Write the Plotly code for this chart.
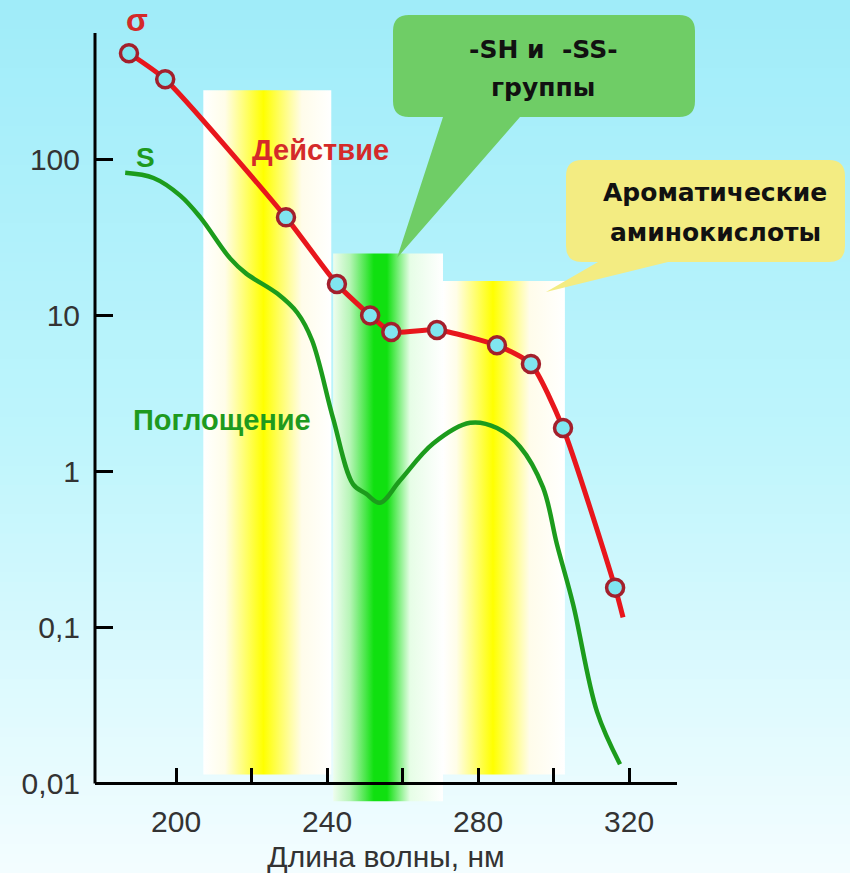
import plotly.graph_objects as go

# ---------------- data ----------------
# Action spectrum (σ, "Действие") – measured points (circles)
act_nm = [187.5, 197.1, 229.1, 242.6, 251.4, 257.0, 269.1, 285.0, 294.0, 302.5, 316.3]
act_val = [479, 326, 42.5, 15.9, 10.0, 7.84, 8.07, 6.43, 4.89, 1.90, 0.18]
# line continues a little past the last circle
act_tail_nm = [318.4]
act_tail_val = [0.116]

# Absorption spectrum (S, "Поглощение")
abs_nm = [186.5, 194.0, 201.1, 206.4, 214.3, 218.5, 226.8, 232.1, 236.0, 241.6,
          246.9, 250.3, 254.0, 259.3, 268.1, 277.9, 285.0, 291.1, 297.2, 300.9,
          305.2, 311.5, 317.6]
abs_val = [82, 76, 58.6, 42.5, 23.2, 18.6, 13.8, 10.4, 6.93, 2.18,
           0.826, 0.72, 0.63, 0.875, 1.51, 2.05, 1.90, 1.44, 0.79, 0.34,
           0.14, 0.0289, 0.0133]

# highlighted absorption bands: [start nm, end nm, top value, bottom value, peak position]
band_start = [207.2, 241.6, 270.7]
band_end = [241.1, 270.7, 303.0]
band_top = [277, 24.9, 16.6]
band_bottom = [0.0114, 0.0077, 0.0114]
band_peak = [0.47, 0.43, 0.41]
band_color = ["#ffff00", "#00e000", "#ffff00"]

x_ticks = [200, 220, 240, 260, 280, 300, 320]
x_ticktext = ["200", "", "240", "", "280", "", "320"]
y_ticks = [0.01, 0.1, 1, 10, 100]
y_ticktext = ["0,01", "0,1", "1", "10", "100"]

# ---------------- layout geometry ----------------
W, H = 850, 873
L, R, T, B = 95, 173, 33, 70
PW, PH = W - L - R, H - T - B
Y_RANGE = [-2.125, 2.81]
X_RANGE = [178.5, 332.7]
XAXIS_POS = (-2 - Y_RANGE[0]) / (Y_RANGE[1] - Y_RANGE[0])


def px(x):
    return (x - L) / PW


def py(y):
    return (H - B - y) / PH


fig = go.Figure()

# bands with horizontal gradients
for i in range(len(band_start)):
    x0, x1 = band_start[i], band_end[i]
    p = band_peak[i]
    c = band_color[i]
    if c == "#00e000":
        cs = [[0, "#eefdee"], [max(p - 0.28, 0.01), "#b8f5b8"], [p - 0.06, "#10e010"],
              [p + 0.06, "#10e010"], [p + 0.27, "#e6fde6"], [1, "#ffffff"]]
    else:
        cs = [[0, "#ffffff"], [max(p - 0.3, 0.01), "#fffde8"], [p, c],
              [min(p + 0.3, 0.99), "#fffcea"], [1, "#ffffff"]]
    fig.add_trace(go.Scatter(
        x=[x0, x1, x1, x0, x0],
        y=[band_bottom[i], band_bottom[i], band_top[i], band_top[i], band_bottom[i]],
        mode="lines", line=dict(width=0), fill="toself",
        fillgradient=dict(type="horizontal", colorscale=cs, start=x0, stop=x1),
        hoverinfo="skip", showlegend=False, cliponaxis=True,
    ))

# absorption curve
fig.add_trace(go.Scatter(
    x=abs_nm, y=abs_val, mode="lines",
    line=dict(color="#1c9c1c", width=4.5, shape="spline", smoothing=1.0),
    showlegend=False, hoverinfo="skip",
))

# action curve (line incl. tail) + circles
fig.add_trace(go.Scatter(
    x=act_nm + act_tail_nm, y=act_val + act_tail_val, mode="lines",
    line=dict(color="#e8161c", width=5, shape="spline", smoothing=0.6),
    showlegend=False, hoverinfo="skip",
))
fig.add_trace(go.Scatter(
    x=act_nm, y=act_val, mode="markers",
    marker=dict(symbol="circle", size=17, color="#80e6f0",
                line=dict(color="#a3202c", width=3.5)),
    showlegend=False, hoverinfo="skip",
))

# ---------------- background gradient (paper shapes) ----------------
shapes = []
stops = [(0.0, (160, 236, 249)), (0.5, (190, 245, 252)), (1.0, (244, 253, 255))]


def grad(t):
    for (t0, c0), (t1, c1) in zip(stops[:-1], stops[1:]):
        if t0 <= t <= t1:
            f = (t - t0) / (t1 - t0)
            return tuple(round(a + (b - a) * f) for a, b in zip(c0, c1))
    return stops[-1][1]


N = 90
for k in range(N):
    y0 = H * k / N
    y1 = H * (k + 1) / N + 1
    r, g, b = grad((k + 0.5) / N)
    shapes.append(dict(type="rect", xref="paper", yref="paper", layer="below",
                       x0=px(0), x1=px(W), y0=py(y1), y1=py(y0),
                       fillcolor=f"rgb({r},{g},{b})", line=dict(width=0)))

# y-axis line (from x axis up)
shapes.append(dict(type="line", xref="paper", yref="paper", x0=0, x1=0,
                   y0=XAXIS_POS, y1=1, line=dict(color="black", width=3), layer="above"))


def callout(x0, y0, x1, y1, r, b1, b2, tip):
    pts = [
        f"M {px(x0 + r)},{py(y0)}", f"L {px(x1 - r)},{py(y0)}",
        f"Q {px(x1)},{py(y0)} {px(x1)},{py(y0 + r)}", f"L {px(x1)},{py(y1 - r)}",
        f"Q {px(x1)},{py(y1)} {px(x1 - r)},{py(y1)}", f"L {px(b2)},{py(y1)}",
        f"L {px(tip[0])},{py(tip[1])}", f"L {px(b1)},{py(y1)}",
        f"L {px(x0 + r)},{py(y1)}", f"Q {px(x0)},{py(y1)} {px(x0)},{py(y1 - r)}",
        f"L {px(x0)},{py(y0 + r)}", f"Q {px(x0)},{py(y0)} {px(x0 + r)},{py(y0)}", "Z",
    ]
    return " ".join(pts)


shapes.append(dict(type="path", xref="paper", yref="paper",
                   path=callout(393, 15, 695, 117, 16, 443, 520, (397, 258)),
                   fillcolor="#6fcd66", line=dict(width=0), layer="above"))
shapes.append(dict(type="path", xref="paper", yref="paper",
                   path=callout(566, 160, 845, 262, 16, 598, 668, (546, 292)),
                   fillcolor="#f3ec82", line=dict(width=0), layer="above"))

# ---------------- annotations ----------------
ann = []


def text(t, x, y, size, color, family="Liberation Sans, Arial, sans-serif", bold=True):
    ann.append(dict(text=f"<b>{t}</b>" if bold else t, x=px(x), y=py(y),
                    xref="paper", yref="paper", showarrow=False,
                    xanchor="center", yanchor="middle",
                    font=dict(size=size, color=color, family=family)))


text("σ", 137, 20, 32, "#d42a2a")
text("S", 145, 157, 28, "#1e9a1e")
text("Действие", 320, 150, 29, "#d42a2a")
text("Поглощение", 222, 420, 29, "#1e9a1e")
cf = "DejaVu Sans, Verdana, sans-serif"
text("-SH и  -SS-", 543, 50, 25, "#111111", cf)
text("группы", 543, 88, 25, "#111111", cf)
text("Ароматические", 715, 193, 25, "#111111", cf)
text("аминокислоты", 715, 232, 25, "#111111", cf)

fig.update_layout(
    width=W, height=H, autosize=False,
    margin=dict(l=L, r=R, t=T, b=B, pad=0, autoexpand=False),
    paper_bgcolor="rgb(200,246,252)", plot_bgcolor="rgba(0,0,0,0)",
    shapes=shapes, annotations=ann, showlegend=False,
    font=dict(family="Liberation Sans, Arial, sans-serif", color="#333333", size=30),
    xaxis=dict(range=X_RANGE, anchor="free", position=XAXIS_POS, showgrid=False,
               automargin=False,
               zeroline=False, showline=True, linecolor="black", linewidth=3,
               ticks="inside", ticklen=14, tickwidth=3, tickcolor="black",
               tickvals=x_ticks, ticktext=x_ticktext, ticklabelstandoff=11,
               tickfont=dict(size=30, color="#333333"),
               title=dict(text="Длина волны, нм", font=dict(size=30, color="#333333"),
                          standoff=8)),
    yaxis=dict(type="log", range=Y_RANGE, showgrid=False, zeroline=False,
               automargin=False,
               showline=False, ticks="inside", ticklen=18, tickwidth=3,
               tickcolor="black", tickvals=y_ticks, ticktext=y_ticktext,
               ticklabelstandoff=14, tickfont=dict(size=30, color="#333333")),
)

fig.write_html("out.html")
